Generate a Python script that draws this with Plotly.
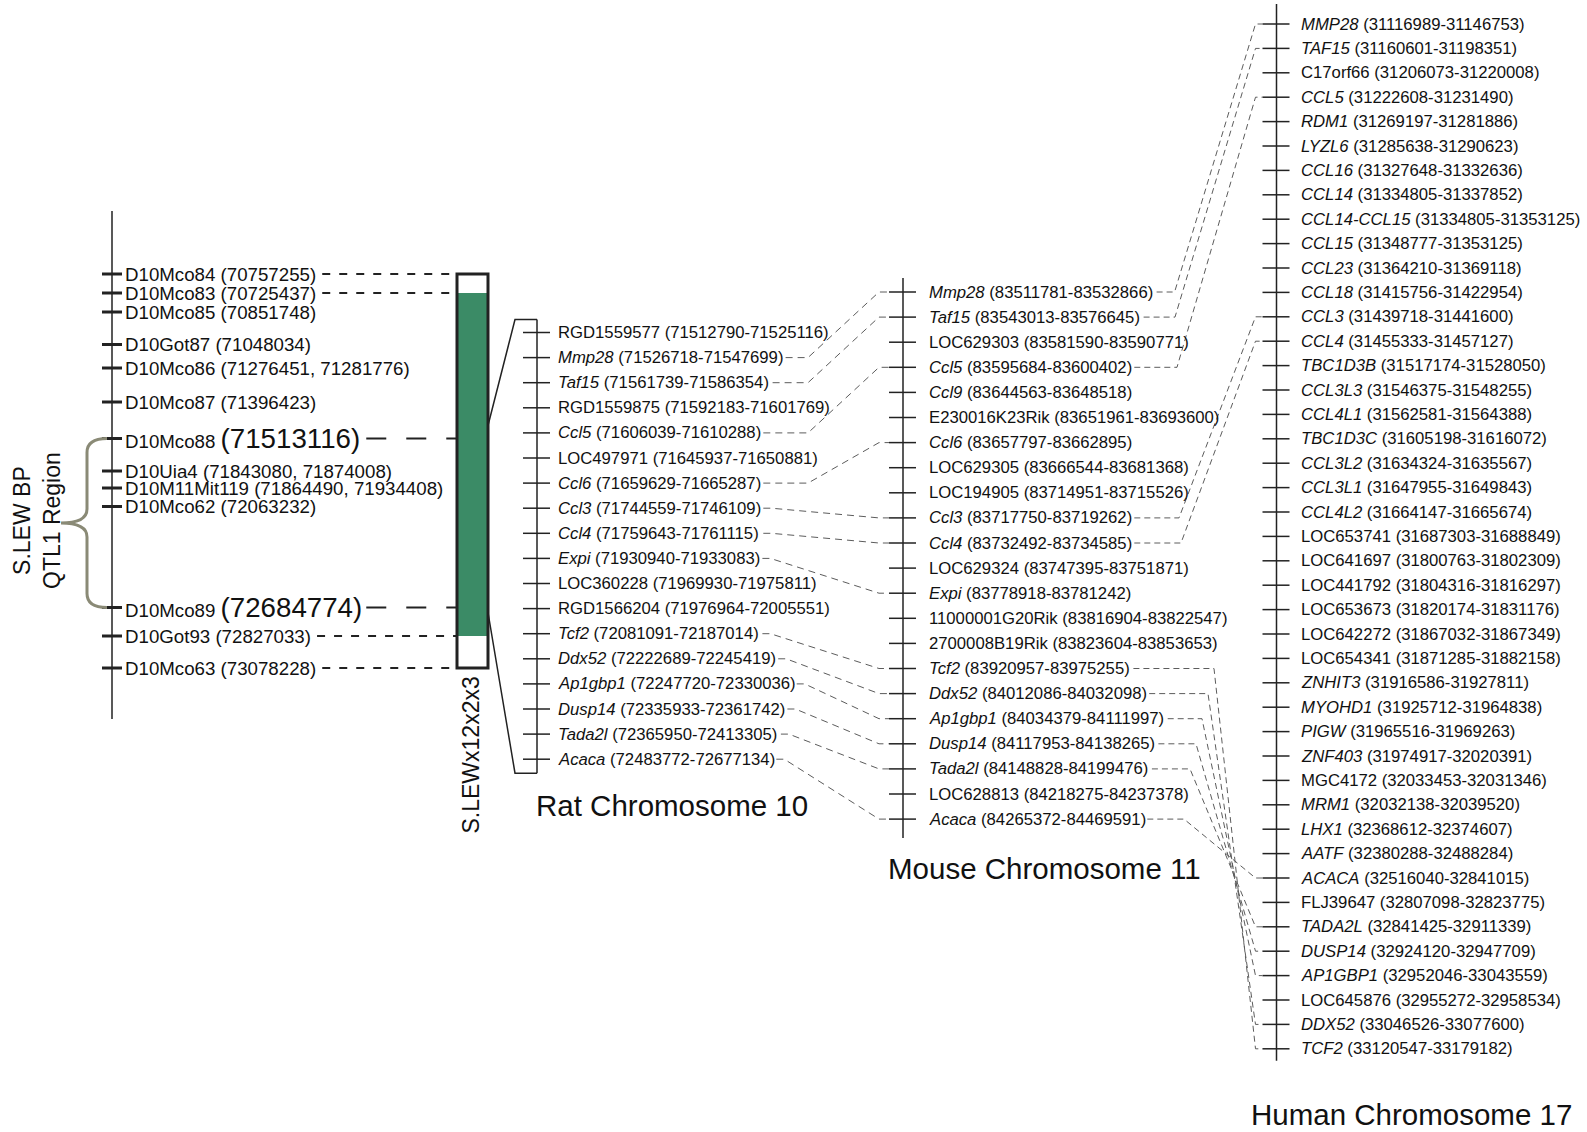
import plotly.graph_objects as go

# ============================ DATA ============================
marker_names = ["D10Mco84", "D10Mco83", "D10Mco85", "D10Got87", "D10Mco86", "D10Mco87",
                "D10Mco88", "D10Uia4", "D10M11Mit119", "D10Mco62", "D10Mco89", "D10Got93", "D10Mco63"]
marker_bp = ["70757255", "70725437", "70851748", "71048034", "71276451, 71281776", "71396423",
             "71513116", "71843080, 71874008", "71864490, 71934408", "72063232", "72684774",
             "72827033", "73078228"]
congenic_outer = ("D10Mco84", "D10Mco63")
congenic_inner = ("D10Mco83", "D10Got93")
qtl_markers = ("D10Mco88", "D10Mco89")
strain_name = "S.LEWx12x2x3"
qtl_label = "S.LEW BP<br>QTL1 Region"

rat_genes = ["RGD1559577", "Mmp28", "Taf15", "RGD1559875", "Ccl5", "LOC497971", "Ccl6", "Ccl3", "Ccl4",
             "Expi", "LOC360228", "RGD1566204", "Tcf2", "Ddx52", "Ap1gbp1", "Dusp14", "Tada2l", "Acaca"]
rat_start = [71512790, 71526718, 71561739, 71592183, 71606039, 71645937, 71659629, 71744559, 71759643,
             71930940, 71969930, 71976964, 72081091, 72222689, 72247720, 72335933, 72365950, 72483772]
rat_end = [71525116, 71547699, 71586354, 71601769, 71610288, 71650881, 71665287, 71746109, 71761115,
           71933083, 71975811, 72005551, 72187014, 72245419, 72330036, 72361742, 72413305, 72677134]

mouse_genes = ["Mmp28", "Taf15", "LOC629303", "Ccl5", "Ccl9", "E230016K23Rik", "Ccl6", "LOC629305",
               "LOC194905", "Ccl3", "Ccl4", "LOC629324", "Expi", "11000001G20Rik", "2700008B19Rik",
               "Tcf2", "Ddx52", "Ap1gbp1", "Dusp14", "Tada2l", "LOC628813", "Acaca"]
mouse_start = [83511781, 83543013, 83581590, 83595684, 83644563, 83651961, 83657797, 83666544,
               83714951, 83717750, 83732492, 83747395, 83778918, 83816904, 83823604,
               83920957, 84012086, 84034379, 84117953, 84148828, 84218275, 84265372]
mouse_end = [83532866, 83576645, 83590771, 83600402, 83648518, 83693600, 83662895, 83681368,
             83715526, 83719262, 83734585, 83751871, 83781242, 83822547, 83853653,
             83975255, 84032098, 84111997, 84138265, 84199476, 84237378, 84469591]

human_genes = ["MMP28", "TAF15", "C17orf66", "CCL5", "RDM1", "LYZL6", "CCL16", "CCL14", "CCL14-CCL15",
               "CCL15", "CCL23", "CCL18", "CCL3", "CCL4", "TBC1D3B", "CCL3L3", "CCL4L1", "TBC1D3C",
               "CCL3L2", "CCL3L1", "CCL4L2", "LOC653741", "LOC641697", "LOC441792", "LOC653673",
               "LOC642272", "LOC654341", "ZNHIT3", "MYOHD1", "PIGW", "ZNF403", "MGC4172", "MRM1",
               "LHX1", "AATF", "ACACA", "FLJ39647", "TADA2L", "DUSP14", "AP1GBP1", "LOC645876",
               "DDX52", "TCF2"]
human_start = [31116989, 31160601, 31206073, 31222608, 31269197, 31285638, 31327648, 31334805, 31334805,
               31348777, 31364210, 31415756, 31439718, 31455333, 31517174, 31546375, 31562581, 31605198,
               31634324, 31647955, 31664147, 31687303, 31800763, 31804316, 31820174,
               31867032, 31871285, 31916586, 31925712, 31965516, 31974917, 32033453, 32032138,
               32368612, 32380288, 32516040, 32807098, 32841425, 32924120, 32952046, 32955272,
               33046526, 33120547]
human_end = [31146753, 31198351, 31220008, 31231490, 31281886, 31290623, 31332636, 31337852, 31353125,
             31353125, 31369118, 31422954, 31441600, 31457127, 31528050, 31548255, 31564388, 31616072,
             31635567, 31649843, 31665674, 31688849, 31802309, 31816297, 31831176,
             31867349, 31882158, 31927811, 31964838, 31969263, 32020391, 32031346, 32039520,
             32374607, 32488284, 32841015, 32823775, 32911339, 32947709, 33043559, 32958534,
             33077600, 33179182]

chrom_titles = ["Rat Chromosome 10", "Mouse Chromosome 11", "Human Chromosome 17"]

# ============================ LAYOUT / STYLE ============================
W_PX, H_PX = 1587, 1132
PAGE_SHIFT = 8          # diagram units are offset from the page corner
FONT = "Liberation Sans, Arial, Helvetica, sans-serif"
TXT = "#111111"
INK = "#222222"
LINK = "#5c5c5c"
GREEN = "#3b8b66"
BRACE = "#8a8a76"
GENE_FS = 16.7
MARK_FS = 18.7
BIG_FS = 27.7
TITLE_FS = 29.5
ROT_FS = 23

marker_row_px = [266, 285, 304, 336.5, 360, 394, 430.5, 463, 480, 498.5, 599.5, 628, 660]
LEFT_X, LEFT_TOP, LEFT_BOT = 104, 203, 711
BOX_L, BOX_R = 449, 480
RAT_X, RAT_TOP, RAT_OFF, RAT_ROW = 529, 324.5, 19, 25.1
MOUSE_X, MOUSE_TOP, MOUSE_OFF, MOUSE_ROW = 895, 284, 24, 25.1
HUMAN_X, HUMAN_TOP, HUMAN_OFF, HUMAN_ROW = 1268.5, 16, 22.5, 24.4

# Arial / Liberation Sans advance widths (1/1000 em)
ADV = {c: 556 for c in "0123456789"}
ADV.update({" ": 278, "(": 333, ")": 333, "-": 333, ",": 278, ".": 278})
ADV.update(dict(A=667, B=667, C=722, D=722, E=667, F=611, G=778, H=722, I=278, J=500, K=667, L=556,
                M=833, N=722, O=778, P=667, Q=778, R=722, S=667, T=611, U=722, V=667, W=944, X=667,
                Y=667, Z=611))
ADV.update(dict(a=556, b=556, c=500, d=556, e=556, f=278, g=556, h=556, i=222, j=222, k=500, l=222,
                m=833, n=556, o=556, p=556, q=556, r=333, s=500, t=278, u=556, v=500, w=722, x=500,
                y=500, z=500))


def text_w(s, size):
    return sum(ADV.get(c, 556) for c in s) * size / 1000.0


def is_italic(n):
    return not (n.startswith(("LOC", "RGD", "C17orf", "MGC", "FLJ")) or n.endswith("Rik"))


shapes = []
annotations = []


def seg(x0, y0, x1, y1, color=INK, width=1.5, dash="solid"):
    shapes.append(dict(type="line", xref="x", yref="y", x0=x0, y0=y0, x1=x1, y1=y1,
                       line=dict(color=color, width=width, dash=dash), layer="above"))


def poly(points, color=LINK, width=1, dash="solid"):
    d = "M " + " L ".join(f"{x:.1f},{y:.1f}" for x, y in points)
    shapes.append(dict(type="path", xref="x", yref="y", path=d,
                       line=dict(color=color, width=width, dash=dash), layer="above"))


def label(x, y, text, size, xanchor="left", angle=0):
    annotations.append(dict(x=x, y=y, xref="x", yref="y", text=text, showarrow=False,
                            xanchor=xanchor, yanchor="middle", textangle=angle,
                            font=dict(family=FONT, size=size, color=TXT)))


# ---------------- left genetic map ----------------
row_of = dict(zip(marker_names, marker_row_px))
seg(LEFT_X, LEFT_TOP, LEFT_X, LEFT_BOT, width=1.5)
flank = set(congenic_outer) | set(congenic_inner)
for name, bp, y in zip(marker_names, marker_bp, marker_row_px):
    seg(LEFT_X - 10, y, LEFT_X + 10, y, width=3)
    x_lab = LEFT_X + 11
    if name in qtl_markers:
        txt = f"{name} <span style='font-size:{BIG_FS}px'>({bp})</span>"
        end = x_lab + text_w(name + " ", MARK_FS) + text_w(f"({bp})", BIG_FS)
        label(x_lab, y, txt, MARK_FS)
        seg(end + 6, y, BOX_L, y, color=INK, width=2, dash="20px,20px")
    else:
        txt = f"{name} ({bp})"
        end = x_lab + text_w(txt, MARK_FS)
        label(x_lab, y, txt, MARK_FS)
        if name in flank:
            seg(end + 8, y, BOX_L, y, color=INK, width=2, dash="8px,9px")

# congenic box
shapes.append(dict(type="rect", xref="x", yref="y", x0=BOX_L, x1=BOX_R,
                   y0=row_of[congenic_inner[0]], y1=row_of[congenic_inner[1]],
                   line=dict(width=0), fillcolor=GREEN, layer="above"))
shapes.append(dict(type="rect", xref="x", yref="y", x0=BOX_L, x1=BOX_R,
                   y0=row_of[congenic_outer[0]], y1=row_of[congenic_outer[1]],
                   line=dict(color=INK, width=3), fillcolor="rgba(0,0,0,0)", layer="above"))
label((BOX_L + BOX_R) / 2 - 2, row_of[congenic_outer[1]] + 87, strain_name, ROT_FS,
      xanchor="center", angle=-90)

# QTL brace
yt, yb = row_of[qtl_markers[0]], row_of[qtl_markers[1]]
ym = (yt + yb) / 2
xe, xv, xt, r = LEFT_X - 5, LEFT_X - 25, LEFT_X - 51, 14
brace = (f"M {xe},{yt} Q {xv},{yt} {xv},{yt + r} L {xv},{ym - r} Q {xv},{ym} {xt},{ym} "
         f"Q {xv},{ym} {xv},{ym + r} L {xv},{yb - r} Q {xv},{yb} {xe},{yb}")
shapes.append(dict(type="path", xref="x", yref="y", path=brace,
                   line=dict(color=BRACE, width=3), layer="above"))
label(xt - 24, ym - 2, qtl_label, ROT_FS, xanchor="center", angle=-90)


# ---------------- gene chromosomes ----------------
def draw_chrom(cx, top, row, off, genes, starts, ends, line_ext):
    ys = [top + i * row for i in range(len(genes))]
    seg(cx, ys[0] - line_ext[0], cx, ys[-1] + line_ext[1], width=1.5)
    ends_x = []
    for g, s, e, y in zip(genes, starts, ends, ys):
        seg(cx - 14, y, cx + 13, y, width=1.5)
        plain = f"{g} ({s}-{e})"
        txt = (f"<i>{g}</i> ({s}-{e})" if is_italic(g) else plain)
        label(cx + off, y, txt, GENE_FS)
        ends_x.append(cx + off + 1 + text_w(plain, GENE_FS))
    return ys, ends_x


rat_y, rat_xe = draw_chrom(RAT_X, RAT_TOP, RAT_ROW, RAT_OFF, rat_genes, rat_start, rat_end, (13, 14))
mouse_y, mouse_xe = draw_chrom(MOUSE_X, MOUSE_TOP, MOUSE_ROW, MOUSE_OFF, mouse_genes, mouse_start,
                               mouse_end, (14, 19))
human_y, human_xe = draw_chrom(HUMAN_X, HUMAN_TOP, HUMAN_ROW, HUMAN_OFF, human_genes, human_start,
                               human_end, (20, 12))

# zoom lines from congenic box to rat chromosome
poly([(BOX_R, yt - 13), (RAT_X - 22, rat_y[0] - 13), (RAT_X, rat_y[0] - 13)], color=INK, width=1.5)
poly([(BOX_R, yb + 5), (RAT_X - 22, rat_y[-1] + 14), (RAT_X, rat_y[-1] + 14)], color=INK, width=1.5)

# rat -> mouse orthologue links
mouse_idx = {g.upper(): j for j, g in enumerate(mouse_genes)}
for i, g in enumerate(rat_genes):
    j = mouse_idx.get(g.upper())
    if j is None:
        continue
    yr, ymo = rat_y[i], mouse_y[j]
    x0 = rat_xe[i] + 3
    tl = MOUSE_X - 14
    x1 = max(x0 + 10, 800) if ymo < yr - 5 else x0 + 8
    poly([(x0, yr), (x1, yr), (tl - 10, ymo), (tl, ymo)], color=LINK, width=1, dash="7px,5px")

# mouse -> human orthologue links
human_idx = {g.upper(): k for k, g in enumerate(human_genes)}
down_rank = 0
up_rank = 0
for j, g in enumerate(mouse_genes):
    k = human_idx.get(g.upper())
    if k is None:
        continue
    ymo, yh = mouse_y[j], human_y[k]
    x0 = mouse_xe[j] + 3
    tl = HUMAN_X - 14
    if yh < ymo:
        x1 = max(x0 + 18, 1165 + 2 * up_rank)
        up_rank += 1
    else:
        x1 = max(x0 + 25, 1206 - 6 * down_rank)
        down_rank += 1
    poly([(x0, ymo), (x1, ymo), (tl - 7, yh), (tl, yh)], color=LINK, width=1, dash="6px,4px")

# chromosome titles
label(RAT_X + 135, rat_y[-1] + 46, chrom_titles[0], TITLE_FS, xanchor="center")
label(MOUSE_X + 141, mouse_y[-1] + 49, chrom_titles[1], TITLE_FS, xanchor="center")
label(HUMAN_X + 135, human_y[-1] + 66, chrom_titles[2], TITLE_FS, xanchor="center")

fig = go.Figure()
fig.add_trace(go.Scatter(x=[0, W_PX], y=[0, H_PX], mode="markers",
                         marker=dict(opacity=0), hoverinfo="skip", showlegend=False))
fig.update_layout(
    width=W_PX, height=H_PX, margin=dict(l=0, r=0, t=0, b=0),
    paper_bgcolor="white", plot_bgcolor="white",
    xaxis=dict(range=[-PAGE_SHIFT, W_PX - PAGE_SHIFT], visible=False, fixedrange=True),
    yaxis=dict(range=[H_PX - PAGE_SHIFT, -PAGE_SHIFT], visible=False, fixedrange=True),
    shapes=shapes, annotations=annotations, showlegend=False,
)
fig.write_html("out.html", config={"displayModeBar": False},
               post_script="document.body.style.margin='0px';document.body.style.overflow='hidden';")
